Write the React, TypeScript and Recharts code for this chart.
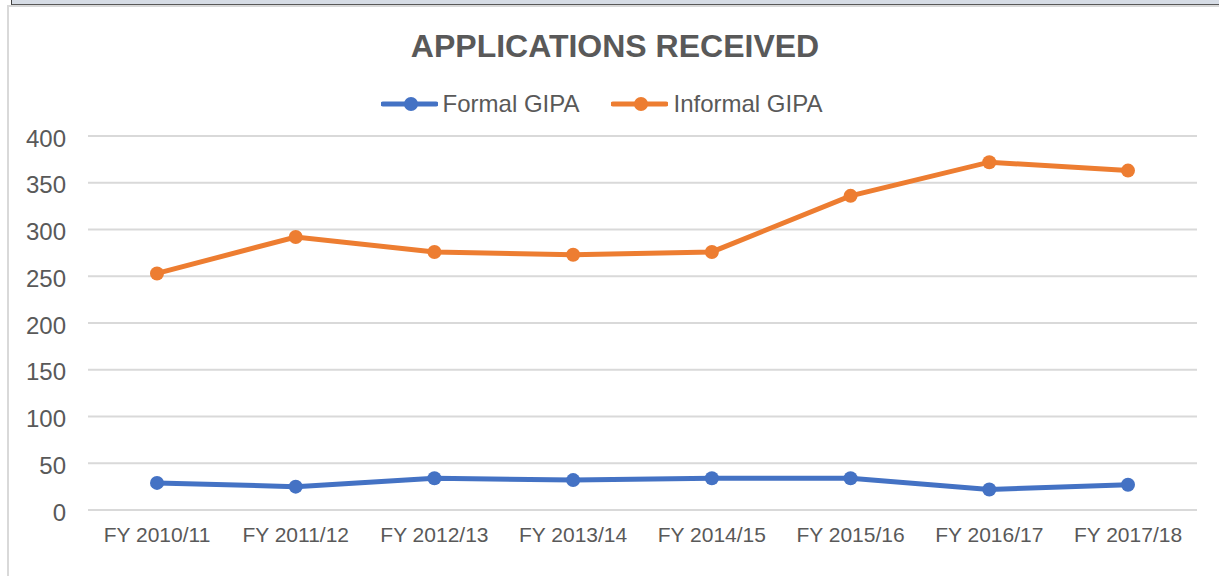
import React from 'react';
import { LineChart, Line, XAxis, YAxis, CartesianGrid } from 'recharts';

const categories = ['FY 2010/11', 'FY 2011/12', 'FY 2012/13', 'FY 2013/14', 'FY 2014/15', 'FY 2015/16', 'FY 2016/17', 'FY 2017/18'];
const formalGipa = [29, 25, 34, 32, 34, 34, 22, 27];
const informalGipa = [253, 292, 276, 273, 276, 336, 372, 363];
const yTicks = [0, 50, 100, 150, 200, 250, 300, 350, 400];
const seriesNames = ['Formal GIPA', 'Informal GIPA'];
const seriesColors = ['#4472C4', '#ED7D31'];

const data = categories.map((c, i) => ({ cat: c, formal: formalGipa[i], informal: informalGipa[i] }));

const FONT = '"Liberation Sans", Arial, sans-serif';
const TEXT = '#595959';

function LegendIcon({ color }: { color: string }) {
  return (
    <svg width={57} height={16} style={{ display: 'block' }}>
      <line x1={2} y1={8} x2={55} y2={8} stroke={color} strokeWidth={5} strokeLinecap="round" />
      <circle cx={30} cy={8} r={7} fill={color} />
    </svg>
  );
}

export default function App() {
  return (
    <div style={{ position: 'fixed', top: 0, left: 0, width: 1219, height: 576, background: '#fff', overflow: 'hidden', fontFamily: FONT }}>
      <style>{'html,body{margin:0;padding:0;}'}</style>
      <div style={{ position: 'absolute', top: 5, left: 7, width: 1240, height: 600, borderTop: '2px solid #d9d9d9', borderLeft: '2px solid #d9d9d9', boxSizing: 'border-box' }} />
      <div style={{ position: 'absolute', top: 28, left: 0, width: 1230, textAlign: 'center', fontSize: 32, fontWeight: 'bold', color: TEXT, lineHeight: 'normal' }}>
        APPLICATIONS RECEIVED
      </div>
      <div style={{ position: 'absolute', top: 92, left: 0, width: 1219, display: 'flex', justifyContent: 'center', paddingRight: 16, boxSizing: 'border-box', height: 24, alignItems: 'center' }}>
        {seriesNames.map((n, i) => (
          <div key={n} style={{ display: 'flex', alignItems: 'center', marginRight: i === 0 ? 32 : 0 }}>
            <LegendIcon color={seriesColors[i]} />
            <span style={{ fontSize: 24, lineHeight: '24px', color: TEXT, marginLeft: 5 }}>{n}</span>
          </div>
        ))}
      </div>
      <div style={{ position: 'absolute', top: 0, left: 0 }}>
        <LineChart width={1219} height={576} data={data} margin={{ top: 136, right: 22, bottom: 36, left: 28 }}>
          <CartesianGrid vertical={false} stroke="#d9d9d9" strokeWidth={2} />
          <XAxis
            dataKey="cat"
            height={30}
            padding={{ left: 69, right: 69 }}
            axisLine={{ stroke: '#d9d9d9', strokeWidth: 2 }}
            tickLine={false}
            tickMargin={11}
            interval={0}
            tick={{ fontSize: 21, fill: TEXT, fontFamily: FONT }}
          />
          <YAxis
            width={60}
            domain={[0, 400]}
            ticks={yTicks}
            axisLine={false}
            tickLine={false}
            tickMargin={16}
            tick={{ fontSize: 24, fill: TEXT, fontFamily: FONT, dy: 2 }}
          />
          <Line dataKey="formal" name={seriesNames[0]} stroke={seriesColors[0]} strokeWidth={5} dot={{ r: 7, fill: seriesColors[0], stroke: seriesColors[0], strokeWidth: 0 }} activeDot={false} isAnimationActive={false} />
          <Line dataKey="informal" name={seriesNames[1]} stroke={seriesColors[1]} strokeWidth={5} dot={{ r: 7, fill: seriesColors[1], stroke: seriesColors[1], strokeWidth: 0 }} activeDot={false} isAnimationActive={false} />
        </LineChart>
      </div>
      <div style={{ position: 'absolute', zIndex: 5, top: 0, left: 11, width: 1208, height: 4, background: '#d6dce5', borderBottom: '1px solid #595959', borderLeft: '1px solid #404040' }} />
    </div>
  );
}
